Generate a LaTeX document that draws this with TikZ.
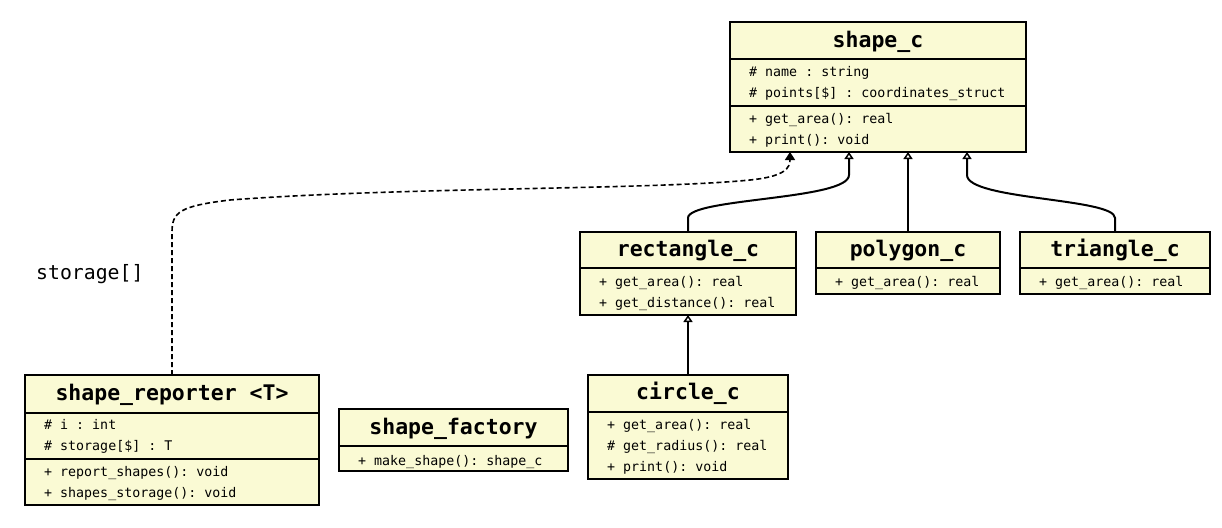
\documentclass[tikz,border=0pt]{standalone}
\usepackage{fontspec}
\setmonofont{DejaVu Sans Mono}
\usetikzlibrary{arrows.meta}
\definecolor{boxfill}{RGB}{250,250,212}
\tikzset{
 box/.style={draw=black, line width=2pt, fill=boxfill, anchor=north west, inner sep=0pt, outer sep=0pt},
 ttl/.style={font=\ttfamily\bfseries\fontsize{21.5}{24}\selectfont, inner sep=0pt, text height=15pt, text depth=4pt},
 mem/.style={font=\ttfamily\fontsize{13.3}{15}\selectfont, anchor=west, inner sep=0pt, text height=10pt, text depth=3pt},
 sep/.style={line width=1.6pt},
 inh/.style={line width=2pt, -{Triangle[open, length=7pt, width=9pt, line width=1.5pt]}},
 dep/.style={line width=1.6pt, dash pattern=on 5pt off 3pt, -{Triangle[length=8pt, width=10pt]}},
 lbl/.style={font=\ttfamily\fontsize{19.8}{22}\selectfont, anchor=west, inner sep=0pt},
}
\begin{document}
\begin{tikzpicture}[x=1pt, y=-1pt]
\useasboundingbox (0,0) rectangle (1222,527);

% shape_c
\node[box, minimum width=296pt, minimum height=130pt] (shapec) at (730,22) {};
\draw[sep] (730,59) -- (1026,59);
\draw[sep] (730,106) -- (1026,106);
\node[ttl] (shapect) at (878,42) {shape\_c};
\node[mem] (shapec1) at (749,73) {\# name : string};
\node[mem] (shapec2) at (749,94) {\# points[\$] : coordinates\_struct};
\node[mem] (shapec3) at (749,120) {+ get\_area(): real};
\node[mem] (shapec4) at (749,141) {+ print(): void};

% rectangle_c
\node[box, minimum width=216pt, minimum height=83pt] (rect) at (580,232) {};
\draw[sep] (580,268) -- (796,268);
\node[ttl] (rectt) at (688,251) {rectangle\_c};
\node[mem] (rect1) at (599,283) {+ get\_area(): real};
\node[mem] (rect2) at (599,304) {+ get\_distance(): real};

% polygon_c
\node[box, minimum width=184pt, minimum height=62pt] (poly) at (816,232) {};
\draw[sep] (816,268) -- (1000,268);
\node[ttl] (polyt) at (908,251) {polygon\_c};
\node[mem] (poly1) at (835,283) {+ get\_area(): real};

% triangle_c
\node[box, minimum width=190pt, minimum height=62pt] (tri) at (1020,232) {};
\draw[sep] (1020,268) -- (1210,268);
\node[ttl] (trit) at (1115,251) {triangle\_c};
\node[mem] (tri1) at (1039,283) {+ get\_area(): real};

% circle_c
\node[box, minimum width=200pt, minimum height=104pt] (circ) at (588,375) {};
\draw[sep] (588,412) -- (788,412);
\node[ttl] (circt) at (688,394) {circle\_c};
\node[mem] (circ1) at (607,426) {+ get\_area(): real};
\node[mem] (circ2) at (607,447) {\# get\_radius(): real};
\node[mem] (circ3) at (607,468) {+ print(): void};

% shape_factory
\node[box, minimum width=229pt, minimum height=62pt] (fact) at (339,409) {};
\draw[sep] (339,446) -- (568,446);
\node[ttl] (factt) at (453.5,429) {shape\_factory};
\node[mem] (fact1) at (358,462) {+ make\_shape(): shape\_c};

% shape_reporter
\node[box, minimum width=294pt, minimum height=130pt] (rep) at (25,375) {};
\draw[sep] (25,413) -- (319,413);
\draw[sep] (25,459) -- (319,459);
\node[ttl] (rept) at (172,395) {shape\_reporter <T>};
\node[mem] (rep1) at (44,426) {\# i : int};
\node[mem] (rep2) at (44,447) {\# storage[\$] : T};
\node[mem] (rep3) at (44,473) {+ report\_shapes(): void};
\node[mem] (rep4) at (44,494) {+ shapes\_storage(): void};

% label
\node[lbl] (storagelbl) at (36,274) {storage[]};

% connection points
\coordinate (inA) at (849,152);
\coordinate (inB) at (908,152);
\coordinate (inC) at (967,152);
\coordinate (inD) at (790,152);
\coordinate (rectN) at (688,232);
\coordinate (polyN) at (908,232);
\coordinate (triN) at (1115,232);
\coordinate (circN) at (688,375);
\coordinate (rectS) at (688,315);
\coordinate (repN) at (172,375);

% connectors
\draw[inh] (rectN) -- (688,218) .. controls (688,198) and (849,200) .. (849,175) -- (inA);
\draw[inh] (polyN) -- (inB);
\draw[inh] (triN) -- (1115,218) .. controls (1115,198) and (967,200) .. (967,175) -- (inC);
\draw[inh] (circN) -- (rectS);
\draw[dep] (repN) -- (172,232) .. controls (172,212) and (180,206) .. (230,200)
  .. controls (400,187) and (650,190) .. (750,180)
  .. controls (785,176.5) and (790,168) .. (inD);
\end{tikzpicture}
\end{document}
